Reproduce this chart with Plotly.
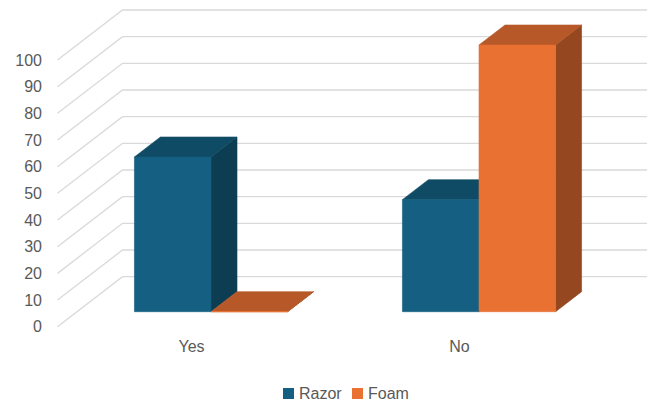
import plotly.graph_objects as go

# ---- data -------------------------------------------------------------
categories = ["Yes", "No"]
series_names = ["Razor", "Foam"]
razor = [58, 42]
foam = [0, 100]
y_ticks = list(range(0, 101, 10))

series_values = [razor, foam]

# ---- styling ----------------------------------------------------------
front_colors = ["#156082", "#E97132"]
top_colors = ["#104B65", "#B65827"]
side_colors = ["#0D3D53", "#954820"]
grid_color = "#D9D9D9"
text_color = "#595959"
FONT = "Liberation Sans, Arial, sans-serif"

# oblique "3-D" geometry, expressed in axis units
GAP_WIDTH = 1.5                       # gap between groups, in bar widths
BAR_W = 1.0 / (len(series_names) + GAP_WIDTH)
DEPTH_X = 0.2425                      # horizontal shift of the full depth (category units)
DEPTH_Y = 18.75                       # vertical shift of the full depth (value units)
D0, D1 = 0.3, 0.7                     # bar slab inside the depth (gap depth 150%)
WALL_X0 = -0.5
WALL_X1 = len(categories) - 0.5


def proj(x, v, d):
    """Project a point (x, value, depth fraction) onto the 2-D axes."""
    return x + d * DEPTH_X, v + d * DEPTH_Y


def polygon(points, color, line_w=0.6):
    xs = [p[0] for p in points] + [points[0][0]]
    ys = [p[1] for p in points] + [points[0][1]]
    return go.Scatter(
        x=xs, y=ys, mode="lines", fill="toself", fillcolor=color,
        line=dict(color=color, width=line_w),
        hoverinfo="skip", showlegend=False,
    )


fig = go.Figure()

# walls: left-wall diagonals and back-wall horizontals for each tick
gx, gy = [], []
for v in y_ticks:
    for pt in (proj(WALL_X0, v, 0), proj(WALL_X0, v, 1), proj(WALL_X1, v, 1)):
        gx.append(pt[0])
        gy.append(pt[1])
    gx.append(None)
    gy.append(None)
fig.add_trace(go.Scatter(x=gx, y=gy, mode="lines",
                         line=dict(color=grid_color, width=1.3),
                         hoverinfo="skip", showlegend=False))

# bars: side, top, front for each box, drawn left to right
for ci, cat in enumerate(categories):
    for si, name in enumerate(series_names):
        v = series_values[si][ci]
        x0 = ci - BAR_W * len(series_names) / 2 + si * BAR_W
        x1 = x0 + BAR_W
        side = [proj(x1, 0, D0), proj(x1, v, D0), proj(x1, v, D1), proj(x1, 0, D1)]
        top = [proj(x0, v, D0), proj(x1, v, D0), proj(x1, v, D1), proj(x0, v, D1)]
        front = [proj(x0, 0, D0), proj(x1, 0, D0), proj(x1, v, D0), proj(x0, v, D0)]
        fig.add_trace(polygon(side, side_colors[si]))
        fig.add_trace(polygon(top, top_colors[si]))
        fig.add_trace(polygon(front, front_colors[si], line_w=1.2 if v == 0 else 0.6))

# axis ranges chosen so the category pitch / value scale fit the canvas
PX_PER_CAT = 268.0
PX_PER_VAL = 2.667
LEFT, RIGHT, BOTTOM, W, H = 47, 0, 68, 647, 403
x_center0 = 191.5
zero_px = 326.7
plot_w = W - LEFT - RIGHT
plot_h = H - BOTTOM
x_range = [(LEFT - x_center0) / PX_PER_CAT, (W - RIGHT - x_center0) / PX_PER_CAT]
y_range = [(zero_px - plot_h) / PX_PER_VAL, zero_px / PX_PER_VAL]

# legend below the chart: colour square + series name
legend_y_px = 393.5
legend_items = [(283, 297), (352, 366)]   # square left edge, text left edge (px)
SQ = 11
shapes, annotations = [], []
for (sq_x, tx_x), name, color in zip(legend_items, series_names, front_colors):
    shapes.append(dict(
        type="rect", xref="paper", yref="paper", line=dict(width=0),
        fillcolor=color,
        x0=(sq_x - LEFT) / plot_w, x1=(sq_x + SQ - LEFT) / plot_w,
        y0=(plot_h - legend_y_px - SQ / 2) / plot_h,
        y1=(plot_h - legend_y_px + SQ / 2) / plot_h,
    ))
    annotations.append(dict(
        text=name, xref="paper", yref="paper", showarrow=False,
        x=(tx_x - LEFT) / plot_w, xanchor="left",
        y=(plot_h - legend_y_px) / plot_h, yanchor="middle",
        font=dict(size=16, color=text_color, family=FONT),
    ))

fig.update_layout(
    width=W, height=H,
    margin=dict(l=LEFT, r=RIGHT, t=0, b=BOTTOM),
    paper_bgcolor="white", plot_bgcolor="white",
    font=dict(family=FONT, size=16, color=text_color),
    xaxis=dict(range=x_range, tickvals=list(range(len(categories))),
               ticktext=categories, showgrid=False, zeroline=False,
               showline=False, ticks="", fixedrange=True),
    yaxis=dict(range=y_range, tickvals=y_ticks, showgrid=False,
               zeroline=False, showline=False, ticks="", fixedrange=True,
               ticklabelstandoff=4),
    shapes=shapes,
    annotations=annotations,
    showlegend=False,
)

fig.write_html("out.html")
